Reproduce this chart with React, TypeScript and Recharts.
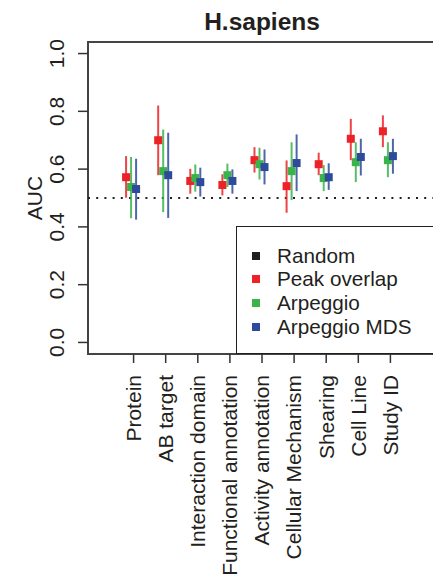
import {
  ScatterChart,
  Scatter,
  XAxis,
  YAxis,
  ErrorBar,
  ReferenceLine,
  ReferenceArea,
  Legend,
} from 'recharts';

const categories = [
  'Protein',
  'AB target',
  'Interaction domain',
  'Functional annotation',
  'Activity annotation',
  'Cellular Mechanism',
  'Shearing',
  'Cell Line',
  'Study ID',
];

const peakMean = [0.572, 0.7, 0.559, 0.545, 0.631, 0.541, 0.617, 0.705, 0.731];
const peakLow = [0.501, 0.579, 0.515, 0.509, 0.588, 0.449, 0.579, 0.631, 0.676];
const peakHigh = [0.645, 0.82, 0.601, 0.582, 0.676, 0.63, 0.657, 0.774, 0.786];

const arpMean = [0.538, 0.593, 0.569, 0.579, 0.617, 0.593, 0.569, 0.624, 0.631];
const arpLow = [0.43, 0.451, 0.522, 0.538, 0.564, 0.493, 0.524, 0.555, 0.572];
const arpHigh = [0.642, 0.737, 0.616, 0.619, 0.674, 0.693, 0.614, 0.693, 0.693];

const mdsMean = [0.531, 0.579, 0.555, 0.559, 0.607, 0.621, 0.572, 0.642, 0.645];
const mdsLow = [0.425, 0.431, 0.505, 0.515, 0.547, 0.524, 0.528, 0.578, 0.584];
const mdsHigh = [0.636, 0.726, 0.605, 0.599, 0.668, 0.72, 0.62, 0.705, 0.705];

const yTicks = [0, 0.2, 0.4, 0.6, 0.8, 1.0];

const legendItems = [
  { label: 'Random', color: '#231F20' },
  { label: 'Peak overlap', color: '#EC2227' },
  { label: 'Arpeggio', color: '#3AB34A' },
  { label: 'Arpeggio MDS', color: '#2E4B9B' },
];

const font = '"Liberation Sans", Arial, Helvetica, sans-serif';
const fs = 21;

const build = (mean: number[], low: number[], high: number[], dx: number) =>
  mean.map((m, i) => ({
    x: i + 1 + dx,
    y: m,
    err: [m - low[i], high[i] - m],
  }));

const series = [
  { key: 'peak', color: '#EC2227', data: build(peakMean, peakLow, peakHigh, -0.234) },
  { key: 'arp', color: '#3AB34A', data: build(arpMean, arpLow, arpHigh, -0.078) },
  { key: 'mds', color: '#2E4B9B', data: build(mdsMean, mdsLow, mdsHigh, 0.078) },
];

const XTick = (props: any) => {
  const { x, payload } = props;
  return (
    <text
      transform={`rotate(-90, ${x}, 375)`}
      x={x}
      y={375}
      dy="0.35em"
      textAnchor="end"
      fontFamily={font}
      fontSize={fs}
      fill="#231F20"
    >
      {categories[payload.value - 1]}
    </text>
  );
};

const YTick = (props: any) => {
  const { y, payload } = props;
  return (
    <text
      transform={`rotate(-90, 57, ${y})`}
      x={57}
      y={y}
      dy="0.35em"
      textAnchor="middle"
      fontFamily={font}
      fontSize={fs}
      fill="#231F20"
    >
      {payload.value.toFixed(1)}
    </text>
  );
};

const LegendBox = () => (
  <div
    style={{
      width: 210,
      height: 128,
      border: '1.8px solid #231F20',
      background: '#fff',
      boxSizing: 'border-box',
      paddingTop: 17,
      fontFamily: font,
      fontSize: 20.7,
      color: '#231F20',
    }}
  >
    {legendItems.map((it) => (
      <div key={it.label} style={{ display: 'flex', alignItems: 'center', height: 23.6 }}>
        <span
          style={{
            display: 'inline-block',
            width: 8,
            height: 8,
            background: it.color,
            marginLeft: 15,
            marginRight: 17,
          }}
        />
        <span>{it.label}</span>
      </div>
    ))}
  </div>
);

export default function App() {
  return (
    <div
      style={{
        position: 'absolute',
        left: 0,
        top: 0,
        width: 433,
        height: 575,
        overflow: 'hidden',
        background: '#fff',
      }}
    >
      <div
        style={{
          position: 'absolute',
          left: 88,
          width: 348,
          top: 8,
          textAlign: 'center',
          fontFamily: font,
          fontSize: 24.5,
          fontWeight: 'bold',
          color: '#231F20',
        }}
      >
        H.sapiens
      </div>
      <ScatterChart
        width={436}
        height={575}
        margin={{ top: 42, right: 0, bottom: 0, left: 0 }}
        style={{ position: 'absolute', left: 0, top: 0 }}
      >
        <XAxis
          type="number"
          dataKey="x"
          domain={[-0.42, 10.42]}
          allowDataOverflow
          ticks={[1, 2, 3, 4, 5, 6, 7, 8, 9]}
          axisLine={false}
          tickLine={{ stroke: '#333', strokeWidth: 1.5 }}
          tickSize={9}
          tick={<XTick />}
          height={221}
          interval={0}
        />
        <YAxis
          type="number"
          dataKey="y"
          domain={[-0.04, 1.04]}
          allowDataOverflow
          ticks={yTicks}
          axisLine={false}
          tickLine={{ stroke: '#333', strokeWidth: 1.5 }}
          tickSize={10}
          tick={<YTick />}
          width={88}
          label={{
            content: () => (
              <text
                transform="rotate(-90, 35, 198)"
                x={35}
                y={198}
                dy="0.35em"
                textAnchor="middle"
                fontFamily={font}
                fontSize={fs}
                fill="#231F20"
              >
                AUC
              </text>
            ),
          }}
        />
        <ReferenceArea
          x1={-0.42}
          x2={10.42}
          y1={-0.04}
          y2={1.04}
          fill="none"
          stroke="#444"
          strokeWidth={2}
          ifOverflow="visible"
        />
        <ReferenceLine
          y={0.5}
          stroke="#231F20"
          strokeWidth={2}
          strokeDasharray="2 6.2"
        />
        {series.map((s) => (
          <Scatter
            key={s.key}
            data={s.data}
            fill={s.color}
            isAnimationActive={false}
            shape={(p: any) => (
              <rect x={p.cx - 4} y={p.cy - 4} width={8} height={8} fill={s.color} />
            )}
          >
            <ErrorBar
              dataKey="err"
              direction="y"
              width={0}
              stroke={s.color}
              strokeWidth={2}
              strokeOpacity={0.85}
              isAnimationActive={false}
            />
          </Scatter>
        ))}
        <Legend
          layout="vertical"
          align="center"
          verticalAlign="middle"
          content={() => <LegendBox />}
          wrapperStyle={{ left: 236, top: 226, width: 210, height: 128 }}
        />
      </ScatterChart>
    </div>
  );
}
